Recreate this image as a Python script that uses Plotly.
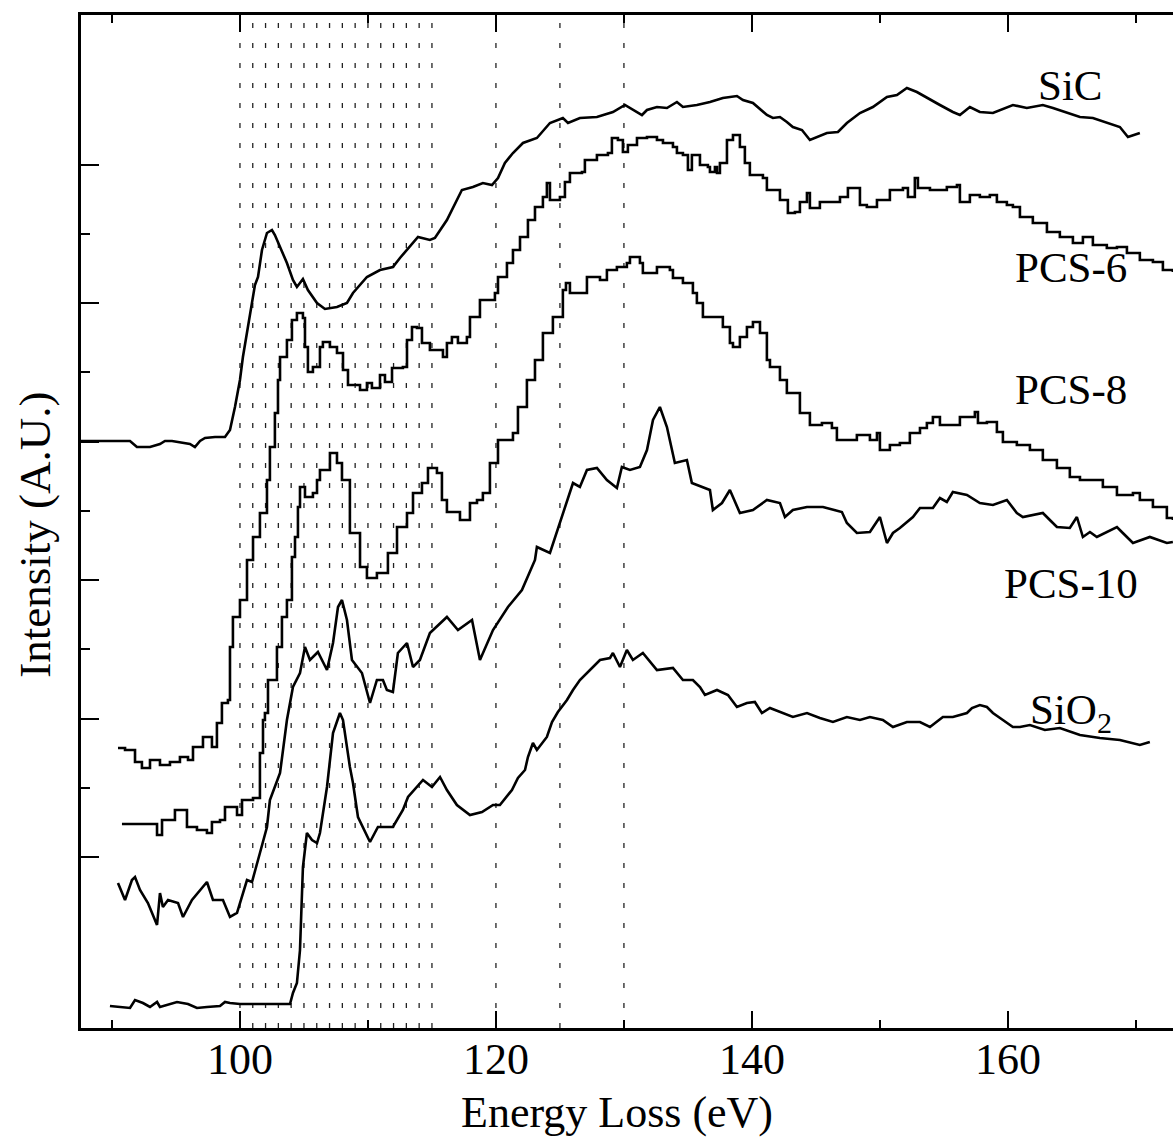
#!/usr/bin/env python3
# EELS Si L2,3 edge spectra: SiC, PCS-6/8/10 and SiO2 (stacked, arbitrary units)

import plotly.graph_objects as go

# data (energy loss in eV, intensity in A.U., curves offset for stacking)
# *****************************************************************

sic_energy = [87.58, 91.41, 91.95, 92.97, 93.75, 94.14, 94.69, 95.31, 96.09, 96.48, 96.88, 97.27, 98.05,
              98.83, 99.22, 99.61, 100.0, 100.23, 100.63, 100.94, 101.17, 101.41, 101.72, 102.11, 102.5,
              102.73, 103.13, 103.67, 104.14, 104.45, 104.92, 105.31, 106.02, 106.64, 107.58, 108.36,
              108.83, 109.92, 110.94, 111.95, 112.5, 113.91, 114.84, 115.23, 116.17, 117.34, 118.2,
              118.98, 119.69, 120.16, 120.7, 121.33, 122.11, 123.2, 124.22, 125.23, 125.63, 126.56,
              127.89, 129.14, 130.08, 130.7, 131.41, 131.8, 132.58, 133.36, 134.14, 134.61, 135.7,
              136.72, 137.73, 138.83, 139.3, 140.08, 141.17, 141.64, 142.19, 142.73, 143.2, 143.91,
              144.53, 145.86, 146.72, 147.42, 148.44, 149.45, 150.55, 151.33, 152.11, 152.89, 153.67,
              154.69, 155.7, 156.25, 157.03, 157.81, 158.83, 159.92, 160.39, 161.48, 162.73, 163.52,
              164.61, 165.63, 166.64, 167.73, 168.75, 169.38, 170.31]
sic_intensity = [5.87, 5.87, 5.81, 5.81, 5.84, 5.87, 5.87, 5.86, 5.84, 5.81, 5.87, 5.90, 5.91, 5.91, 5.98,
                 6.21, 6.48, 6.71, 7.01, 7.28, 7.43, 7.51, 7.78, 7.95, 7.98, 7.93, 7.81, 7.65, 7.48, 7.41,
                 7.49, 7.38, 7.25, 7.19, 7.21, 7.25, 7.35, 7.51, 7.58, 7.61, 7.70, 7.91, 7.88, 7.90, 8.08,
                 8.38, 8.41, 8.45, 8.43, 8.50, 8.65, 8.75, 8.85, 8.90, 9.05, 9.10, 9.05, 9.10, 9.11, 9.16,
                 9.23, 9.18, 9.13, 9.18, 9.21, 9.20, 9.26, 9.21, 9.23, 9.26, 9.30, 9.32, 9.28, 9.25, 9.13,
                 9.10, 9.11, 9.06, 9.01, 8.98, 8.88, 8.95, 8.96, 9.05, 9.15, 9.21, 9.31, 9.33, 9.40, 9.36,
                 9.30, 9.23, 9.16, 9.13, 9.21, 9.16, 9.15, 9.21, 9.23, 9.20, 9.23, 9.20, 9.15, 9.11, 9.10,
                 9.05, 9.01, 8.91, 8.95]

pcs6_energy = [90.47, 91.02, 91.80, 92.34, 92.97, 93.75, 94.53, 95.31, 95.94, 96.33, 97.11, 97.81, 98.20,
               98.59, 99.06, 99.22, 99.45, 100.0, 100.55, 101.02, 101.56, 102.11, 102.34, 102.73, 102.97,
               103.13, 103.67, 104.06, 104.45, 104.92, 105.08, 105.31, 105.70, 106.25, 106.48, 107.03,
               107.58, 108.05, 108.44, 109.38, 109.92, 110.31, 110.94, 111.33, 111.88, 112.73, 113.05,
               113.44, 113.83, 114.22, 114.84, 115.47, 115.86, 116.17, 116.56, 117.03, 117.73, 117.97,
               118.75, 119.92, 120.16, 120.86, 121.33, 121.88, 122.50, 123.05, 123.67, 123.98, 124.22,
               124.45, 125.00, 125.39, 125.78, 126.72, 126.95, 127.89, 128.75, 129.06, 129.53, 129.92,
               130.31, 131.02, 131.80, 132.58, 133.05, 133.83, 134.14, 134.61, 135.00, 135.31, 135.78,
               135.94, 136.56, 136.72, 137.11, 137.27, 137.50, 138.05, 138.52, 139.06, 139.45, 139.84,
               140.86, 141.17, 142.19, 142.81, 143.36, 143.75, 144.30, 144.53, 145.31, 146.88, 147.50,
               148.28, 148.44, 148.98, 149.77, 150.78, 151.80, 152.19, 152.73, 152.97, 153.91, 155.23,
               156.02, 156.25, 157.03, 157.81, 158.59, 159.14, 159.92, 160.39, 160.94, 161.95, 163.05,
               164.06, 165.08, 165.86, 166.64, 167.73, 168.52, 169.30, 170.31, 171.33, 172.11, 172.89]
pcs6_intensity = [2.80, 2.78, 2.66, 2.60, 2.68, 2.63, 2.66, 2.71, 2.68, 2.81, 2.91, 2.81, 3.05, 3.25, 3.28,
                  3.81, 4.11, 4.28, 4.68, 4.91, 5.15, 5.48, 5.81, 6.15, 6.48, 6.71, 6.88, 7.08, 7.15, 7.10,
                  6.81, 6.56, 6.61, 6.81, 6.86, 6.81, 6.75, 6.58, 6.43, 6.38, 6.45, 6.40, 6.53, 6.46, 6.60,
                  6.61, 6.88, 7.01, 7.00, 6.85, 6.78, 6.78, 6.71, 6.85, 6.91, 6.85, 6.91, 7.11, 7.28, 7.35,
                  7.51, 7.65, 7.78, 7.91, 8.08, 8.21, 8.31, 8.45, 8.28, 8.28, 8.31, 8.46, 8.55, 8.56, 8.68,
                  8.73, 8.75, 8.90, 8.88, 8.76, 8.83, 8.90, 8.91, 8.88, 8.85, 8.81, 8.75, 8.73, 8.58, 8.73,
                  8.73, 8.63, 8.61, 8.56, 8.61, 8.55, 8.65, 8.88, 8.93, 8.81, 8.65, 8.53, 8.50, 8.38, 8.28,
                  8.15, 8.16, 8.26, 8.35, 8.20, 8.26, 8.31, 8.40, 8.40, 8.23, 8.21, 8.28, 8.38, 8.40, 8.31,
                  8.50, 8.40, 8.38, 8.41, 8.43, 8.26, 8.33, 8.31, 8.33, 8.26, 8.23, 8.21, 8.11, 8.05, 7.96,
                  7.91, 7.85, 7.91, 7.83, 7.80, 7.81, 7.75, 7.68, 7.66, 7.58, 7.56]

pcs8_energy = [90.78, 93.36, 93.52, 93.91, 94.92, 95.86, 96.64, 97.42, 97.81, 98.44, 98.83, 99.77, 100.16,
               101.02, 101.56, 101.80, 101.95, 102.19, 102.89, 103.28, 103.67, 104.06, 104.30, 104.53,
               104.69, 105.08, 105.70, 106.02, 106.25, 107.03, 107.58, 107.97, 108.59, 109.38, 109.92,
               110.70, 111.56, 112.27, 113.05, 113.52, 114.22, 114.69, 115.39, 115.78, 116.17, 117.19,
               117.97, 118.52, 118.98, 119.53, 120.16, 121.33, 121.72, 122.42, 123.05, 123.67, 124.45,
               125.23, 125.47, 125.78, 126.56, 127.11, 128.13, 128.67, 129.45, 130.23, 130.47, 131.25,
               131.48, 132.58, 133.59, 133.83, 134.61, 135.39, 135.70, 136.17, 136.72, 137.73, 138.28,
               138.52, 139.06, 139.61, 140.08, 140.63, 141.17, 141.41, 142.19, 142.73, 143.75, 144.53,
               145.47, 146.25, 146.64, 147.66, 148.20, 149.22, 149.77, 150.00, 150.78, 151.56, 152.34,
               153.13, 153.67, 154.14, 154.69, 155.47, 156.25, 157.42, 157.66, 158.36, 159.14, 159.61,
               160.70, 161.72, 162.73, 163.83, 164.84, 165.63, 166.64, 167.42, 168.52, 169.77, 170.31,
               171.33, 172.42, 172.89]
pcs8_intensity = [2.04, 2.04, 1.93, 2.08, 2.18, 2.01, 1.98, 1.95, 2.06, 2.08, 2.21, 2.13, 2.28, 2.30, 2.75,
                  3.08, 3.15, 3.48, 3.81, 4.11, 4.28, 4.71, 4.91, 5.21, 5.41, 5.31, 5.35, 5.48, 5.58, 5.75,
                  5.65, 5.48, 4.95, 4.61, 4.50, 4.55, 4.75, 5.01, 5.15, 5.35, 5.45, 5.60, 5.55, 5.28, 5.16,
                  5.08, 5.25, 5.28, 5.35, 5.65, 5.88, 5.95, 6.21, 6.48, 6.68, 6.95, 7.11, 7.38, 7.45, 7.35,
                  7.35, 7.51, 7.48, 7.58, 7.61, 7.65, 7.71, 7.65, 7.55, 7.61, 7.58, 7.50, 7.45, 7.35, 7.25,
                  7.11, 7.11, 7.01, 6.85, 6.81, 6.91, 7.01, 7.06, 6.95, 6.68, 6.61, 6.48, 6.35, 6.15, 6.03,
                  6.05, 6.00, 5.88, 5.88, 5.93, 5.88, 5.95, 5.78, 5.83, 5.85, 5.95, 6.00, 6.05, 6.11, 6.03,
                  6.03, 6.11, 6.16, 6.05, 6.06, 5.96, 5.86, 5.83, 5.78, 5.68, 5.60, 5.51, 5.48, 5.48, 5.41,
                  5.33, 5.35, 5.28, 5.21, 5.10, 5.08]

pcs10_energy = [90.47, 91.02, 91.56, 91.80, 92.19, 92.81, 93.52, 93.75, 93.98, 94.38, 95.16, 95.55, 96.25,
                97.42, 97.89, 98.67, 99.22, 99.77, 100.55, 100.94, 101.56, 102.11, 102.34, 103.13, 103.67,
                103.91, 104.14, 104.69, 105.08, 105.47, 106.09, 106.80, 107.27, 107.66, 107.97, 108.36,
                108.75, 109.53, 109.92, 110.16, 110.70, 111.17, 111.48, 111.95, 112.34, 113.05, 113.52,
                114.06, 114.84, 116.17, 117.03, 118.13, 118.75, 119.77, 120.94, 122.03, 123.05, 123.20,
                124.22, 125.16, 126.02, 126.56, 127.11, 127.89, 128.67, 129.45, 129.84, 130.47, 131.25,
                131.80, 132.27, 132.81, 133.36, 133.98, 134.92, 135.31, 136.72, 136.95, 137.66, 138.28,
                139.06, 140.08, 141.17, 142.19, 142.58, 143.20, 144.30, 145.55, 147.03, 147.42, 148.20,
                149.22, 150.00, 150.55, 151.02, 151.56, 152.58, 153.13, 154.14, 154.69, 155.23, 155.70,
                156.80, 157.81, 158.83, 159.92, 160.70, 161.17, 162.73, 163.28, 163.83, 164.84, 165.39,
                165.86, 166.41, 166.95, 168.52, 168.98, 169.77, 171.09, 172.42, 172.89]
pcs10_intensity = [1.45, 1.28, 1.48, 1.51, 1.38, 1.25, 1.03, 1.35, 1.21, 1.28, 1.25, 1.11, 1.28, 1.46, 1.28,
                   1.28, 1.11, 1.15, 1.48, 1.46, 1.75, 2.01, 2.28, 2.55, 3.08, 3.23, 3.41, 3.55, 3.81, 3.68,
                   3.76, 3.58, 3.85, 4.21, 4.28, 4.08, 3.68, 3.55, 3.35, 3.25, 3.48, 3.48, 3.38, 3.36, 3.75,
                   3.85, 3.61, 3.68, 3.95, 4.11, 3.98, 4.08, 3.68, 3.98, 4.21, 4.38, 4.68, 4.81, 4.75, 5.11,
                   5.45, 5.41, 5.58, 5.60, 5.48, 5.40, 5.61, 5.58, 5.61, 5.78, 6.08, 6.21, 6.01, 5.65, 5.68,
                   5.45, 5.38, 5.18, 5.25, 5.38, 5.15, 5.18, 5.28, 5.25, 5.11, 5.18, 5.21, 5.21, 5.16, 5.05,
                   4.95, 4.96, 5.11, 4.85, 4.95, 5.00, 5.11, 5.20, 5.20, 5.30, 5.26, 5.36, 5.33, 5.25, 5.23,
                   5.28, 5.15, 5.11, 5.15, 5.08, 5.01, 5.00, 5.11, 4.91, 4.96, 4.91, 5.01, 4.95, 4.85, 4.91,
                   4.85, 4.86]

sio2_energy = [89.84, 91.41, 91.80, 92.42, 92.97, 93.52, 93.75, 94.30, 95.08, 95.94, 96.64, 97.42, 98.44,
               98.83, 99.22, 100.0, 103.91, 104.14, 104.45, 104.69, 104.92, 105.23, 105.63, 106.02, 106.25,
               106.80, 107.27, 107.81, 108.05, 108.59, 108.83, 109.22, 110.16, 110.78, 111.95, 112.73,
               113.13, 114.30, 115.00, 115.63, 116.17, 116.95, 117.97, 118.91, 119.77, 120.31, 121.25,
               121.72, 122.27, 122.50, 122.89, 123.20, 123.98, 124.38, 124.84, 125.55, 126.02, 126.56,
               127.34, 128.13, 128.91, 129.14, 129.69, 130.23, 130.70, 131.48, 132.58, 133.83, 134.61,
               135.39, 135.94, 136.33, 137.27, 138.13, 138.83, 139.61, 140.23, 140.78, 141.41, 142.19,
               143.20, 144.30, 145.31, 146.33, 147.42, 148.44, 149.22, 150.23, 151.02, 152.11, 153.13,
               153.91, 154.92, 155.70, 156.80, 157.19, 157.81, 158.36, 158.83, 159.61, 160.39, 160.94,
               161.72, 162.89, 164.06, 165.63, 167.19, 168.75, 170.31, 171.09]
sio2_intensity = [0.22, 0.20, 0.28, 0.25, 0.21, 0.26, 0.21, 0.23, 0.26, 0.24, 0.20, 0.21, 0.22, 0.26, 0.25,
                  0.24, 0.24, 0.35, 0.45, 0.78, 1.61, 1.95, 1.88, 1.85, 1.95, 2.41, 2.95, 3.15, 3.08, 2.61,
                  2.45, 2.11, 1.86, 2.01, 2.01, 2.18, 2.31, 2.48, 2.41, 2.51, 2.38, 2.23, 2.13, 2.16, 2.23,
                  2.23, 2.38, 2.50, 2.58, 2.71, 2.85, 2.78, 2.91, 3.06, 3.16, 3.28, 3.38, 3.48, 3.58, 3.68,
                  3.70, 3.75, 3.61, 3.78, 3.68, 3.75, 3.58, 3.60, 3.48, 3.48, 3.41, 3.33, 3.38, 3.33, 3.21,
                  3.25, 3.26, 3.15, 3.20, 3.16, 3.11, 3.15, 3.10, 3.06, 3.11, 3.08, 3.11, 3.08, 3.01, 3.06,
                  3.06, 3.01, 3.11, 3.11, 3.15, 3.20, 3.23, 3.21, 3.15, 3.08, 3.01, 3.01, 3.03, 2.98, 3.00,
                  2.93, 2.90, 2.88, 2.83, 2.86]

# dotted reference lines (eV)
reference_lines = list(range(100, 116)) + [120, 125, 130]

# curve labels and where they sit (eV, A.U.)
curve_labels = ['SiC', 'PCS-6', 'PCS-8', 'PCS-10', 'SiO<sub>2</sub>']
label_energy = [164.9, 164.9, 164.9, 164.9, 164.9]
label_intensity = [9.43, 7.61, 6.39, 4.45, 3.15]

# x tick labels
x_major_ticks = [100, 120, 140, 160]
x_minor_ticks = [90, 110, 130, 150, 170]

# *****************************************************************

font_family = 'Liberation Serif, Times New Roman, serif'

series = [
    (sic_energy, sic_intensity, 'linear'),
    (pcs6_energy, pcs6_intensity, 'hv'),
    (pcs8_energy, pcs8_intensity, 'hv'),
    (pcs10_energy, pcs10_intensity, 'linear'),
    (sio2_energy, sio2_intensity, 'linear'),
]

fig = go.Figure()

for energy, intensity, shape in series:
    fig.add_trace(
        go.Scatter(
            x=energy,
            y=intensity,
            mode='lines',
            line=dict(color='black', width=2.6, shape=shape),
            showlegend=False,
            hoverinfo='skip',
        )
    )

# dotted vertical guide lines behind the spectra
for ev in reference_lines:
    fig.add_vline(x=ev, line=dict(color='#222222', width=1.3, dash='5px,15px'), layer='below')

for text, ex, iy in zip(curve_labels, label_energy, label_intensity):
    fig.add_annotation(
        x=ex, y=iy, text=text, showarrow=False, xanchor='center', yanchor='middle',
        font=dict(family=font_family, size=43, color='black'),
    )

# axis titles placed as annotations so the frame does not move
fig.add_annotation(
    text='Energy Loss (eV)', xref='paper', yref='paper', x=0.491, y=-0.083,
    xanchor='center', yanchor='middle', showarrow=False,
    font=dict(family=font_family, size=44, color='black'),
)
fig.add_annotation(
    text='Intensity (A.U.)', xref='paper', yref='paper', x=-0.042, y=0.487,
    xanchor='center', yanchor='middle', showarrow=False, textangle=-90,
    font=dict(family=font_family, size=45, color='black'),
)

y_major = [1.71 + 1.385 * k for k in range(6)]
y_minor = [1.71 + 0.6925 + 1.385 * k for k in range(5)]

fig.update_layout(
    width=1173,
    height=1144,
    margin=dict(l=81, r=0, t=15, b=116),
    paper_bgcolor='white',
    plot_bgcolor='white',
    font=dict(family=font_family, size=44, color='black'),
    xaxis=dict(
        range=[87.58, 172.9], automargin=False,
        showline=True, linecolor='black', linewidth=2.5, mirror='ticks',
        ticks='inside', ticklen=17, tickwidth=2, tickcolor='black',
        tickmode='array', tickvals=x_major_ticks,
        ticklabelstandoff=-10,
        minor=dict(ticks='inside', ticklen=8, tickwidth=1.5, tickcolor='black',
                   tickmode='array', tickvals=x_minor_ticks),
        showgrid=False, zeroline=False,
    ),
    yaxis=dict(
        range=[0, 10.13], automargin=False,
        showline=True, linecolor='black', linewidth=2.5,
        ticks='inside', ticklen=18, tickwidth=2, tickcolor='black',
        tickmode='array', tickvals=y_major, showticklabels=False,
        minor=dict(ticks='inside', ticklen=9, tickwidth=1.5, tickcolor='black',
                   tickmode='array', tickvals=y_minor),
        showgrid=False, zeroline=False,
    ),
    # right-hand tick marks without a frame line (the frame is off the edge in the original)
    yaxis2=dict(
        range=[0, 10.13], overlaying='y', side='right', automargin=False,
        showline=False, ticks='inside', ticklen=14, tickwidth=2, tickcolor='black',
        tickmode='array', tickvals=y_major, showticklabels=False,
        showgrid=False, zeroline=False,
    ),
)

# drop the default page margin so the figure sits at the window corner
fig.write_html(
    'out.html',
    config={'displayModeBar': False},
    post_script="document.body.style.margin='0';document.body.style.overflow='hidden';",
)
